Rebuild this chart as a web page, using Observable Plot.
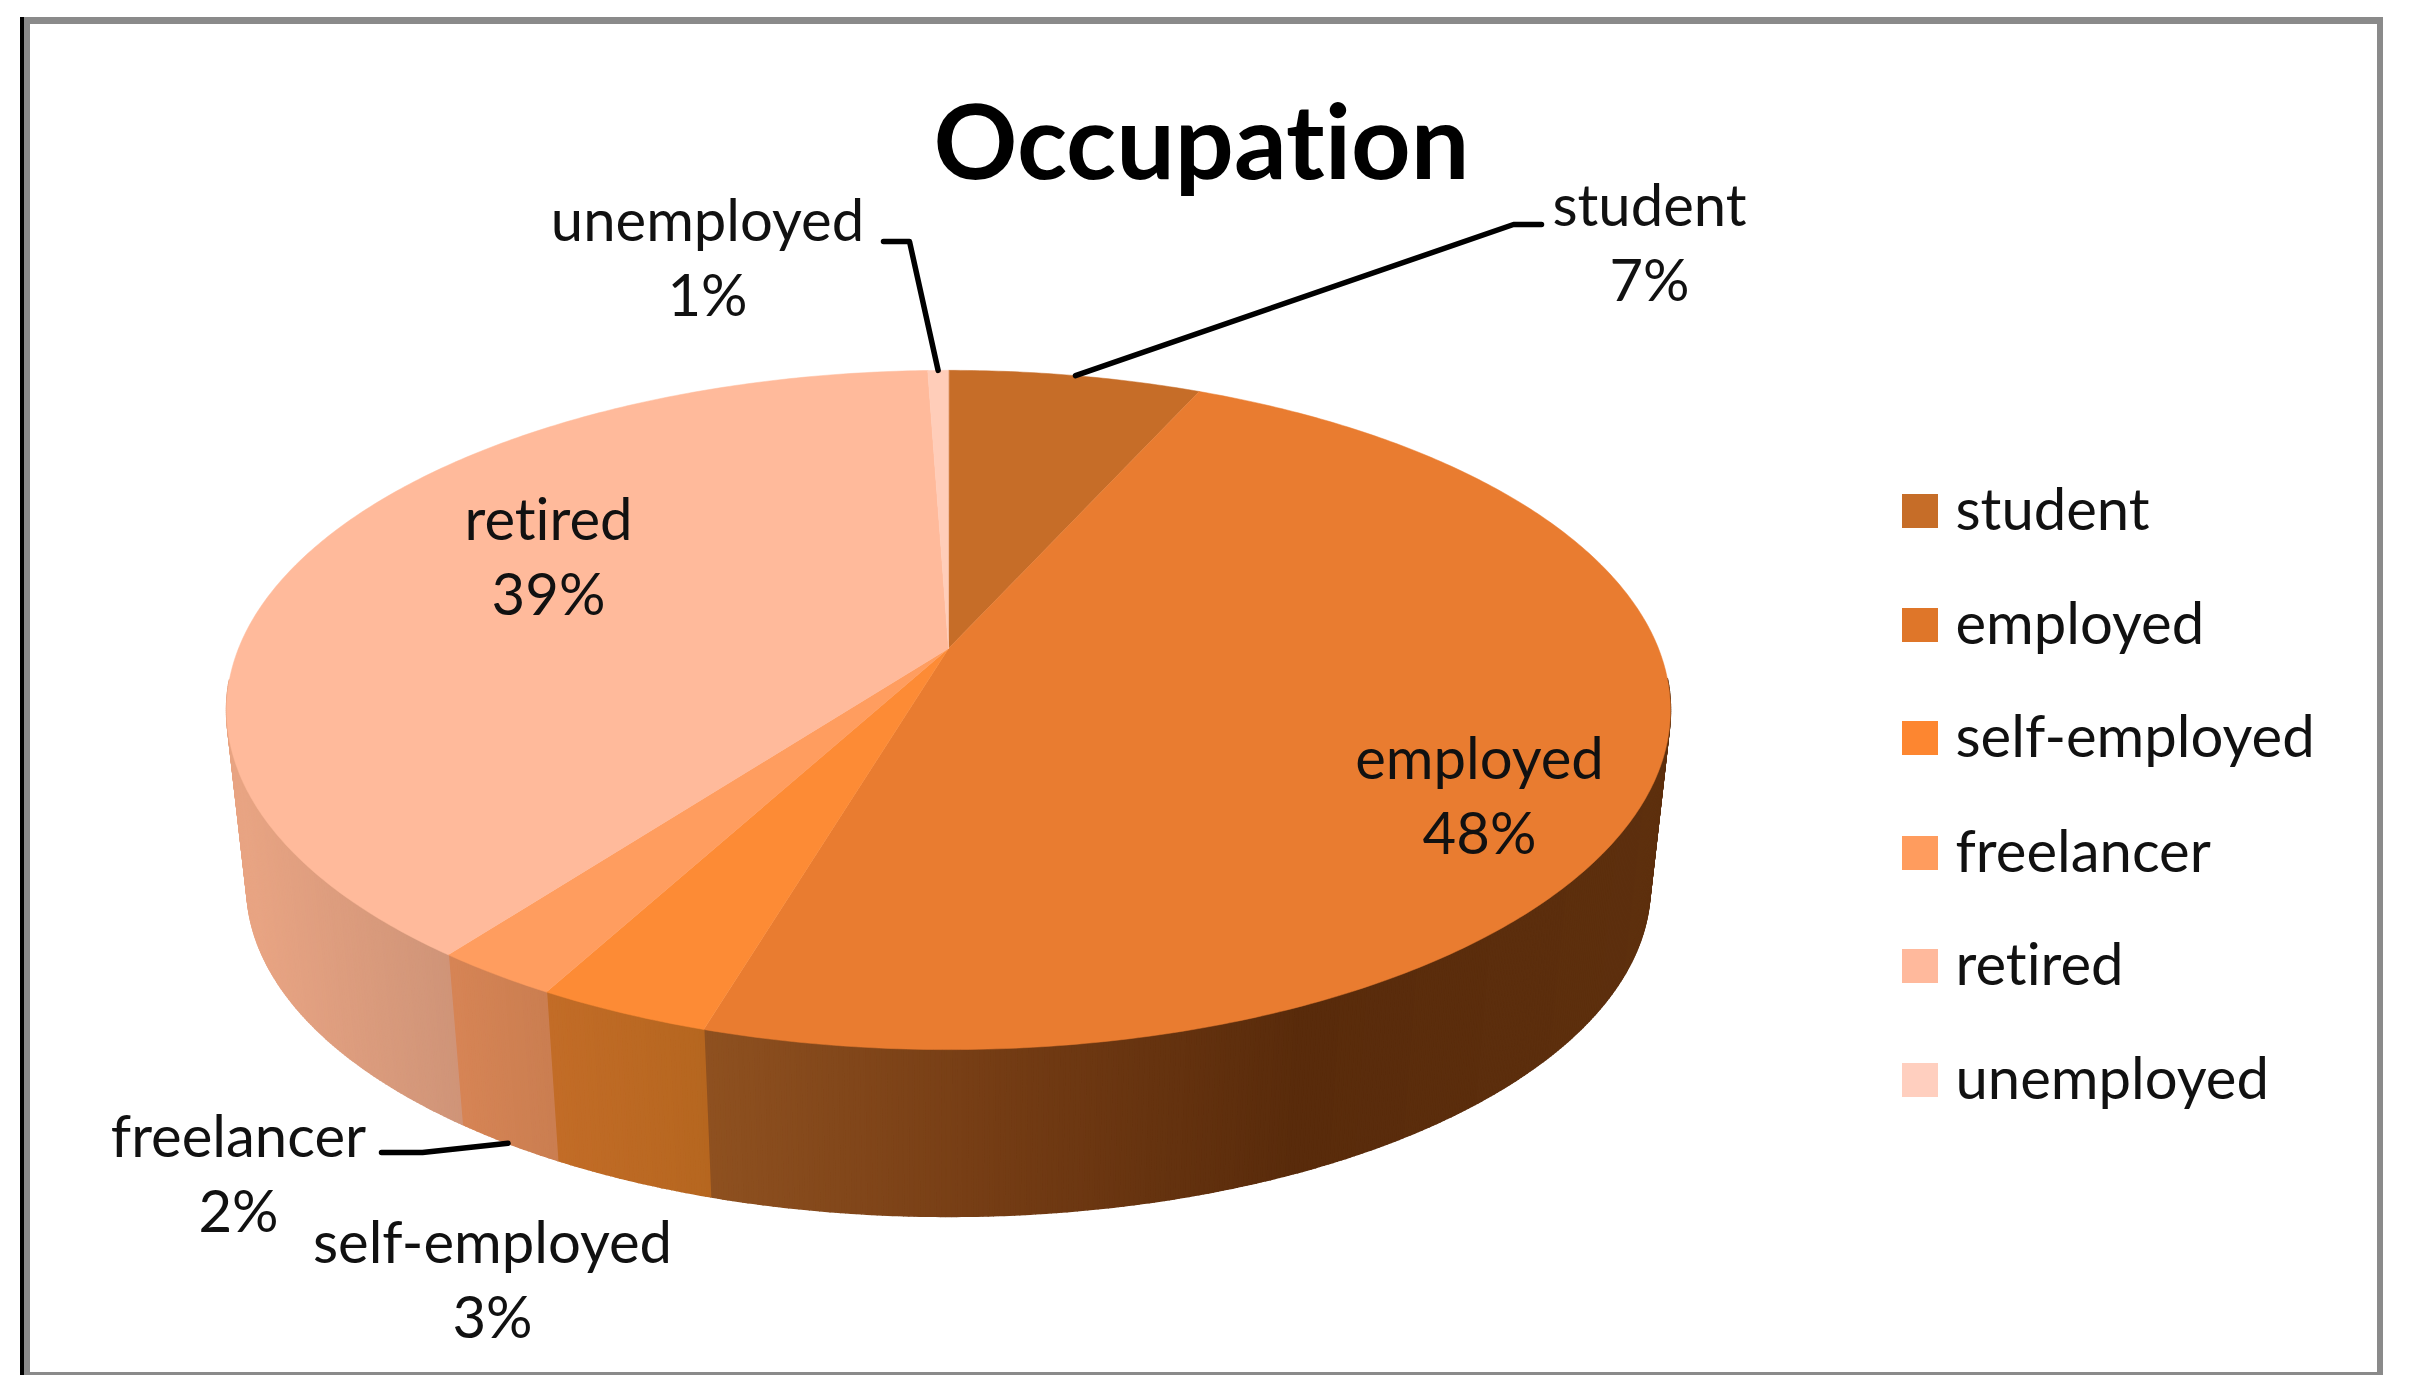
<!DOCTYPE html>
<html>
<head>
<meta charset="utf-8">
<script src="https://cdn.jsdelivr.net/npm/d3@7"></script>
<script src="https://cdn.jsdelivr.net/npm/@observablehq/plot@0.6"></script>
<style>
html,body{margin:0;padding:0;background:#fff}
svg{display:block;filter:blur(0.6px)}
svg text{font-variant-ligatures:none;font-feature-settings:"liga" 0,"dlig" 0}
</style>
</head>
<body>
<div id="chart"></div>
<script>
// ---- data
const chartTitle = "Occupation";
const categories = ["student", "employed", "self-employed", "freelancer", "retired", "unemployed"];
const shares = [6.75, 47.85, 3.3, 2.4, 39.15, 0.55];      // slice sizes as measured from the pie, percent
const percentLabels = [7, 48, 3, 2, 39, 1];               // percentages as printed

// ---- styles
const topColors = ["#C66D28", "#E97C30", "#FD8B35", "#FF9D5F", "#FFBA9B", "#FFCDB9"];
const legendColors = ["#C66D28", "#DF7629", "#FD8630", "#FF9C5E", "#FFB99C", "#FFCFBF"];
const wallStops = [
  [[0, "#C66D28"], [1, "#C66D28"]],
  [[700, "#8F5120"], [1000, "#743C14"], [1300, "#592B0B"], [1680, "#5E300E"]],
  [[550, "#C26C27"], [710, "#B5661F"]],
  [[450, "#D68455"], [560, "#C97D50"]],
  [[240, "#E8A483"], [450, "#CF9478"]],
  [[0, "#FFCDB9"], [1, "#FFCDB9"]]
];

// ---- layout
const W = 2409, H = 1393;
const pie = {cx: 948, cy: 648, A: 710, B: 328.5, c: 0.181, k: 0.972, drop: 178};
const labelFont = "Lato, 'Open Sans', sans-serif";
const labelAnchors = [[1649, 239], [1479, 792], [492, 1276], [238, 1170], [548, 553], [707, 254]];
const leaderStubs = {
  student: [[1541, 224], [1513, 224]],
  unemployed: [[883, 241], [909, 241]],
  freelancer: [[381, 1152], [422, 1152]]
};
const legendRows = [511, 625, 738, 853, 966, 1080];
const frameBars = [
  {x1: 20, x2: 2383, y1: 17, y2: 24, color: "#8a8a8a"},
  {x1: 2377, x2: 2383, y1: 17, y2: 1375, color: "#8a8a8a"},
  {x1: 20, x2: 2383, y1: 1372, y2: 1375, color: "#8a8a8a"},
  {x1: 24, x2: 30, y1: 17, y2: 1375, color: "#8a8a8a"},
  {x1: 20, x2: 24, y1: 17, y2: 1375, color: "#000000"}
];

// ---- perspective disc
const rad = d3.scaleLinear().domain([0, 100]).range([0, 2 * Math.PI]);
function rim(pct, lower = false) {
  const t = rad(pct), X = Math.sin(t), Y = Math.cos(t), d = 1 + pie.c * Y;
  const dx = pie.A * X / d, dy = -pie.B * Y / d;
  return lower
    ? [pie.cx + pie.k * dx, pie.cy + pie.k * dy + pie.drop]
    : [pie.cx + dx, pie.cy + dy];
}
const starts = Array.from(d3.cumsum([0, ...shares]));

const topPoly = [], wallPoly = [];
categories.forEach((name, i) => {
  const a0 = starts[i], a1 = starts[i + 1];
  topPoly.push({id: name, x: pie.cx, y: pie.cy, color: topColors[i]});
  const n = Math.max(4, Math.ceil((a1 - a0) * 6));
  for (let j = 0; j <= n; ++j) {
    const [x, y] = rim(a0 + (a1 - a0) * j / n);
    topPoly.push({id: name, x, y, color: topColors[i]});
  }
  const shade = d3.scaleLinear()
    .domain(wallStops[i].map(d => d[0]))
    .range(wallStops[i].map(d => d[1]))
    .clamp(true);
  const step = 0.1;
  for (let a = a0; a < a1 - 1e-6; a += step) {
    const b = Math.min(a + step, a1);
    const m = (a + b) / 2;
    if (m < 26.5 || m > 73.5) continue;   // the back of the wall lies behind the top face
    const col = d3.color(shade(rim(m)[0])).formatHex();
    const id = name + a;
    [rim(a), rim(b), rim(b, true), rim(a, true)].forEach(([x, y]) =>
      wallPoly.push({id, x, y, color: col}));
  }
});

const mid = i => (starts[i] + starts[i + 1]) / 2;
const point = id => ([x, y]) => ({id, x, y});
const leaders = [
  ...leaderStubs.student.map(point("student")), point("student")(rim(mid(0))),
  ...leaderStubs.unemployed.map(point("unemployed")), point("unemployed")(rim(mid(5))),
  ...leaderStubs.freelancer.map(point("freelancer")), point("freelancer")(rim(mid(3), true))
];

const labels = categories.map((name, i) => ({
  text: `${name}\n${percentLabels[i]}%`,
  x: labelAnchors[i][0], y: labelAnchors[i][1]
}));
const legend = categories.map((name, i) => ({name, y: legendRows[i], color: legendColors[i]}));

const chart = Plot.plot({
  width: W, height: H, margin: 0,
  x: {domain: [0, W], range: [0, W], axis: null},
  y: {domain: [0, H], range: [0, H], axis: null},
  color: {type: "identity"},
  style: {background: "#fff"},
  marks: [
    Plot.rect(frameBars, {x1: "x1", x2: "x2", y1: "y1", y2: "y2", fill: "color"}),
    Plot.line(wallPoly, {x: "x", y: "y", z: "id", fill: "color", stroke: "color", strokeWidth: 1.6, curve: "linear-closed"}),
    Plot.line(topPoly, {x: "x", y: "y", z: "id", fill: "color", stroke: "color", strokeWidth: 0.5, curve: "linear-closed"}),
    Plot.line(leaders, {x: "x", y: "y", z: "id", stroke: "#000", strokeWidth: 5.5, curve: "linear"}),
    Plot.text([chartTitle], {x: () => 1201, y: () => 145, text: d => d, fontFamily: labelFont, fontWeight: 700, fontSize: 104, fill: "#000", lineAnchor: "middle"}),
    Plot.text(labels, {x: "x", y: "y", text: "text", fontFamily: labelFont, fontSize: 58, lineHeight: 1.30, fill: "#111", lineAnchor: "middle"}),
    Plot.rect(legend, {x1: () => 1902, x2: () => 1938, y1: d => d.y - 17, y2: d => d.y + 17, fill: "color"}),
    Plot.text(legend, {x: () => 1955, y: "y", text: "name", fontFamily: labelFont, fontSize: 58, fill: "#111", textAnchor: "start", lineAnchor: "middle"})
  ]
});
document.getElementById("chart").append(chart);
</script>
</body>
</html>
